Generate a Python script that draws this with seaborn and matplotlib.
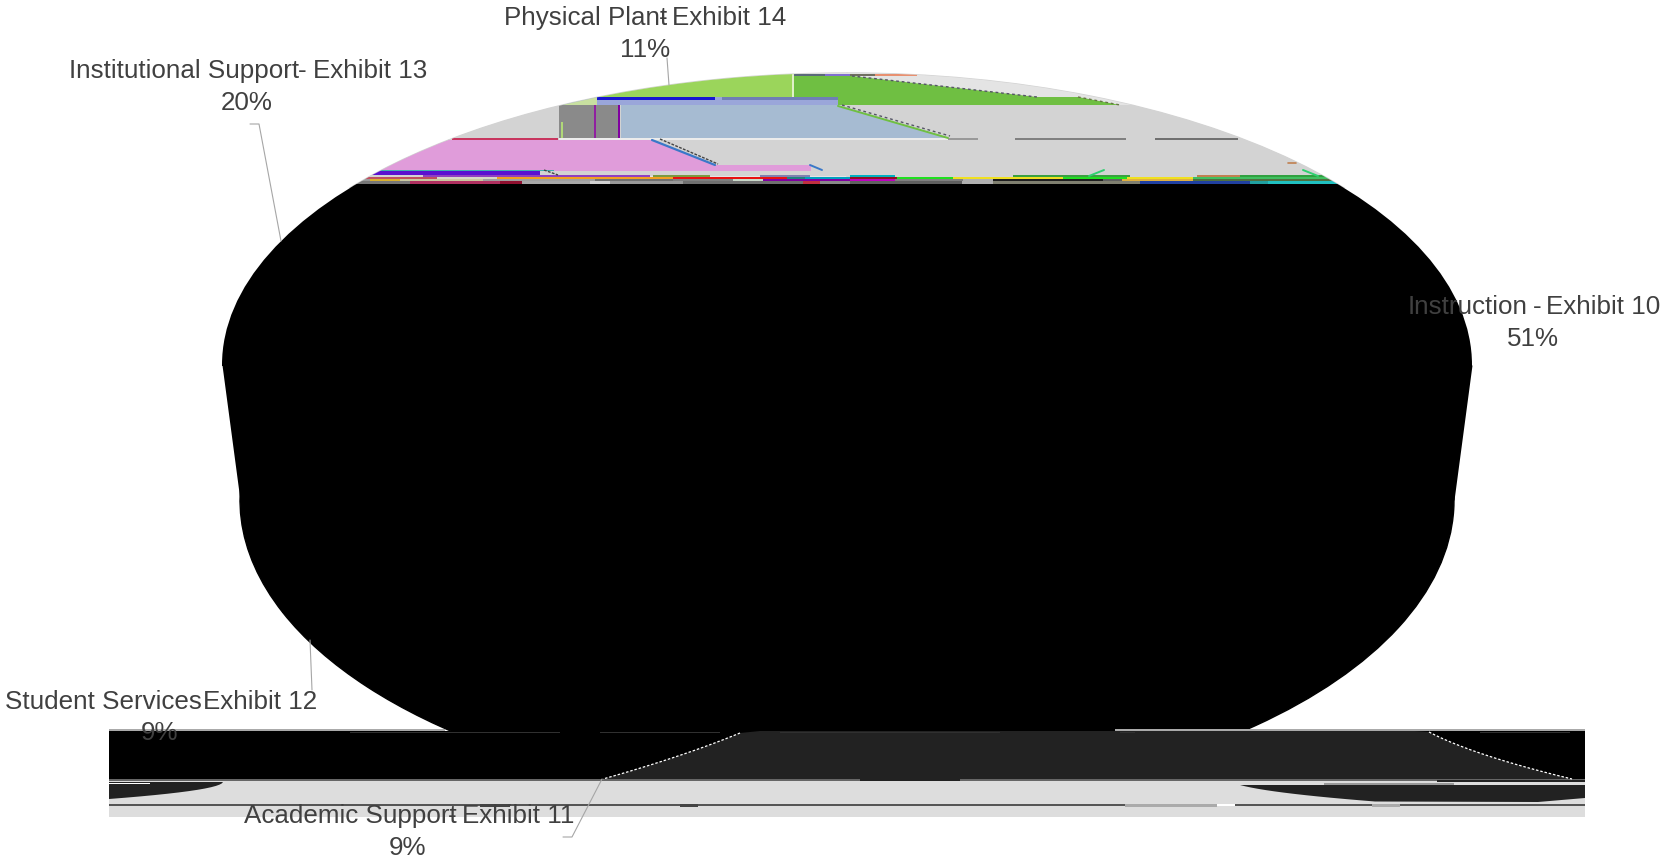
import matplotlib
matplotlib.use("Agg")
import matplotlib.pyplot as plt
from matplotlib.patches import Ellipse, Rectangle
import numpy as np
import seaborn as sns

categories = ["Instruction", "Academic Support", "Student Services", "Institutional Support", "Physical Plant"]
exhibits = ["Exhibit 10", "Exhibit 11", "Exhibit 12", "Exhibit 13", "Exhibit 14"]
shares = [51, 9, 9, 20, 11]

W, H = 1661, 861
sns.set_theme(style="white")
plt.rcParams["font.family"] = ["Liberation Sans", "DejaVu Sans"]

TEXT = "#404040"
LEADER = "#a6a6a6"
LIGHT = "#d3d3d3"
CAP = "#e4e4e4"
PALE = "#dddddd"
DARK = "#222222"
top_colors = [LIGHT, LIGHT, LIGHT, LIGHT, "#e4e4e4"]
low_colors = ["black"] * 5

fig = plt.figure(figsize=(W / 100, H / 100), dpi=100, facecolor="white")


def squashed_pie(cx, cy, a, b, colors, z):
    # pie in its own axes, stretched so it comes out elliptical
    pa = fig.add_axes([(cx - a) / W, 1 - (cy + b) / H, 2 * a / W, 2 * b / H], zorder=z)
    wedges, _ = pa.pie(shares, colors=colors, startangle=90, counterclock=False, radius=1,
                       wedgeprops=dict(linewidth=1, edgecolor=colors[0]))
    pa.set_aspect("auto")
    pa.set_xlim(-1, 1)
    pa.set_ylim(-1, 1)
    pa.patch.set_alpha(0)
    return wedges


squashed_pie(847, 500, 607, 305, low_colors, 1)
top_wedges = squashed_pie(847, 365, 625, 292, top_colors, 2)

# only the cap of the upper pie stays in view
cap_box = Rectangle((0, 1 - 188 / H), 1, 188 / H, transform=fig.transFigure)
for w in top_wedges:
    w.set_clip_on(True)
    w.set_clip_path(cap_box)

ax = fig.add_axes([0, 0, 1, 1], zorder=3)
ax.patch.set_alpha(0)
ax.set_xlim(0, W)
ax.set_ylim(H, 0)
clip = Ellipse((847, 365), 1250, 584, transform=ax.transData)


def seg(x0, x1, y0, y1, color, clipped=True, z=2):
    n = len(ax.patches)
    sns.barplot(x=[x1 - x0], y=[(y0 + y1) / 2], orient="h", native_scale=True, width=y1 - y0,
                left=x0, color=color, saturation=1, linewidth=0, errorbar=None, ax=ax, zorder=z)
    if clipped:
        for p in ax.patches[n:]:
            p.set_clip_path(clip)


def poly(pts, color, clipped=True, z=2):
    xs, ys = zip(*pts)
    for p in ax.fill(xs, ys, color=color, lw=0, zorder=z):
        if clipped:
            p.set_clip_path(clip)


def bend(pts, n=14):
    # smooth edge through three points
    xs, ys = zip(*pts)
    c = np.polyfit(ys, xs, 2)
    yy = np.linspace(ys[0], ys[-1], n)
    return list(zip(np.polyval(c, yy), yy))


# cap of the pie, top down
seg(200, 1500, 70, 105, CAP, z=1)
seg(200, 1500, 105, 176, LIGHT, z=1)
poly([(560, 73), (794, 73), (794, 97), (560, 97)], "#9bd55b")
poly([(794, 76), (852, 76), (1037, 97), (1078, 97), (1120, 105), (794, 105)], "#6fbf42")
seg(792, 794, 74, 97, "#dff0c8")
for x0, x1, c in [(794, 825, "#5a6a7a"), (825, 850, "#8070d0"), (850, 875, "#707060"), (875, 917, "#e89070")]:
    seg(x0, x1, 74, 76, c)
ax.plot([852, 1037], [76, 97], color="#555566", lw=1, ls=(0, (2, 2)), zorder=3)
ax.plot([1078, 1120], [97, 105], color="#667744", lw=1, ls=(0, (2, 2)), zorder=3)

seg(560, 838, 97, 105, "#9aa6da")
seg(597, 715, 97, 100, "#1818d0")
seg(722, 838, 97, 100, "#6f7fb5")
seg(563, 597, 97, 105, "#c8e0a0")
seg(559, 594, 105, 138, "#8a8a8a")
seg(594, 596, 105, 138, "#9020a0")
seg(596, 619, 105, 138, "#8a8a8a")
seg(618, 620, 105, 138, "#8000a0")
seg(561, 563, 122, 138, "#b0d878")
poly([(621, 105), (838, 105), (948, 138), (621, 138)], "#a6bbd2")
ax.plot([838, 948], [106, 138], color="#6fbf42", lw=1.4, zorder=3)
ax.plot([842, 950], [105, 136], color="#555566", lw=1, ls=(0, (2, 2)), zorder=3)
seg(559, 948, 138, 140, "#ececec")
seg(452, 558, 138, 140, "#c8365f")
for x0, x1, c in [(948, 978, "#999999"), (1015, 1126, "#808080"), (1155, 1238, "#707070")]:
    seg(x0, x1, 138, 140, c)
poly([(380, 140), (652, 140), (715, 165), (811, 165), (811, 171), (380, 171)], "#e09cda")
ax.plot([652, 715], [140, 165], color="#3a78c8", lw=1.6, zorder=3)
ax.plot([660, 718], [139, 164], color="#444444", lw=1, ls=(0, (2, 1)), zorder=3)
ax.plot([810, 822], [165, 170], color="#3a78c8", lw=1.4, zorder=3)
seg(340, 554, 170, 171, "#40b0b0")
seg(340, 540, 171, 175, "#5a10d0")
ax.plot([544, 558], [170, 175], color="#444444", lw=1, ls=(0, (2, 1)), zorder=3)
ax.plot([1089, 1104], [176, 170], color="#30d070", lw=1.4, zorder=3)
ax.plot([1303, 1318], [170, 176], color="#30d070", lw=1.4, zorder=3)
ax.plot([1288, 1296], [163, 163], color="#c08050", lw=1.2, zorder=3)

# thin noisy rows just above the black
rows = [
    (175, 176.5, [(423, 650, "#9040c0"), (653, 710, "#7a9a40"), (760, 810, "#8080b0"), (850, 895, "#00b0c0"),
                  (1013, 1130, "#3aa040"), (1197, 1240, "#c08050"), (1240, 1330, "#30a040")]),
    (176.5, 178.5, [(340, 437, "#c05060"), (437, 497, "#d8d8c8"), (497, 673, "#f2a020"), (673, 787, "#e81010"),
                    (787, 805, "#208080"), (805, 850, "#00a0c0"), (850, 897, "#901020"), (897, 953, "#20e020"),
                    (953, 1063, "#f0e020"), (1063, 1127, "#20e020"), (1127, 1193, "#f0e020"), (1193, 1340, "#40c060")]),
    (178.5, 181, [(340, 370, "#999999"), (370, 400, "#d8b030"), (400, 483, "#c8c8a0"), (483, 595, "#a0a0a0"),
                  (595, 673, "#707070"), (673, 733, "#808080"), (733, 763, "#c8d8c8"), (763, 850, "#8000a0"),
                  (850, 895, "#c000c0"), (895, 963, "#808080"), (963, 993, "#b0b0b0"), (993, 1103, "#202020"),
                  (1103, 1122, "#606060"), (1122, 1193, "#e0b040"), (1193, 1340, "#507040")]),
    (181, 184, [(340, 410, "#777777"), (410, 500, "#b03060"), (500, 522, "#901030"), (522, 590, "#a8a8a8"),
                (590, 610, "#d0d0d0"), (610, 683, "#999999"), (683, 803, "#707070"), (803, 820, "#c03040"),
                (820, 850, "#888888"), (850, 962, "#606060"), (962, 993, "#b0b0b0"), (993, 1140, "#808070"),
                (1140, 1250, "#2040a0"), (1250, 1268, "#20a0a0"), (1268, 1340, "#20c0c0")]),
]
for y0, y1, parts in rows:
    for x0, x1, c in parts:
        seg(x0, x1, y0, y1, c)

# black body between the two pies
seg(200, 1500, 184, 366, "black")
ys = np.array([365, 500])
ax.fill_betweenx(ys, [222, 240], [1472, 1454], color="black", lw=0, zorder=2)

# broken strip along the bottom
seg(109, 1585, 731, 779, DARK, False)
seg(109, 445, 729, 731, "#aaaaaa", False)
seg(1115, 1585, 729, 731, "#aaaaaa", False)
left_curve = bend([(740, 733), (672, 758), (603, 779)])
right_curve = bend([(1429, 732), (1498, 759), (1572, 779)])
poly([(109, 731), (760, 731)] + left_curve + [(109, 779)], "black", False)
poly([(1415, 731), (1585, 731), (1585, 779)] + right_curve[::-1], "black", False)
for curve in (left_curve, right_curve):
    ax.plot(*zip(*curve), color="white", lw=0.9, ls=(0, (2, 1.5)), zorder=3)
for x0, x1 in [(350, 470), (385, 420), (385, 560), (600, 720), (780, 1000), (1120, 1135), (1480, 1570)]:
    seg(x0, x1, 731.5, 733, "#303030", False, 3)
seg(109, 1585, 779, 804, PALE, False)
seg(109, 1585, 779, 781, "#666666", False)
seg(860, 960, 779, 781, "#222222", False)
bw = bend([(223, 782), (165, 794), (109, 799)])
poly([(109, 782)] + bw, DARK, False)
seg(109, 150, 783, 784, "white", False, 3)
seg(1437, 1585, 780, 782, "#222222", False, 3)
poly(bend([(1240, 785), (1304, 795), (1375, 801.5)]) + [(1538, 802), (1585, 798), (1585, 785)], DARK, False)
seg(1324, 1454, 783, 785, "#999999", False, 3)
seg(109, 1186, 804, 806, "#555555", False)
seg(1235, 1585, 804, 806, "#555555", False)
seg(109, 1585, 806, 817, PALE, False)
for x0, x1 in [(480, 510), (680, 698), (1125, 1217), (1372, 1400)]:
    seg(x0, x1, 804, 807, "#444444" if x0 < 1000 else "#aaaaaa", False, 3)

# leader lines
leaders = [
    [(667, 58), (669, 85)],
    [(250, 124), (259, 124), (281, 241)],
    [(310, 640), (312, 690)],
    [(602, 779), (572, 837), (563, 837)],
]
for line in leaders:
    ax.plot(*zip(*line), color=LEADER, lw=0.8, zorder=4)

# name, hyphen and exhibit number land on separate runs in the original
# (name left, hyphen x, exhibit left, line y, pct x, pct y); no hyphen shows for Student Services
label_pos = {
    "Physical Plant": (504, 663, 672, 18, 645, 50),
    "Institutional Support": (69, 302, 313, 71, 247, 103),
    "Instruction": (1408, 1537, 1546, 307, 1533, 339),
    "Student Services": (5, None, 203, 702, 159, 733),
    "Academic Support": (244, 452, 462, 816, 408, 848),
}
FS = 18.7
for name, exh, pct in zip(categories, exhibits, shares):
    nx, hx, ex, ly, px, py = label_pos[name]
    ax.text(nx, ly, name, color=TEXT, fontsize=FS, va="center", ha="left", zorder=5)
    if hx is not None:
        ax.text(hx, ly, "-", color=TEXT, fontsize=FS, va="center", ha="center", zorder=5)
    ax.text(ex, ly, exh, color=TEXT, fontsize=FS, va="center", ha="left", zorder=5)
    ax.text(px, py, f"{pct}%", color=TEXT, fontsize=FS, va="center", ha="center", zorder=5)

ax.set_xlim(0, W)
ax.set_ylim(H, 0)
ax.axis("off")
fig.savefig("out.png", dpi=100)
